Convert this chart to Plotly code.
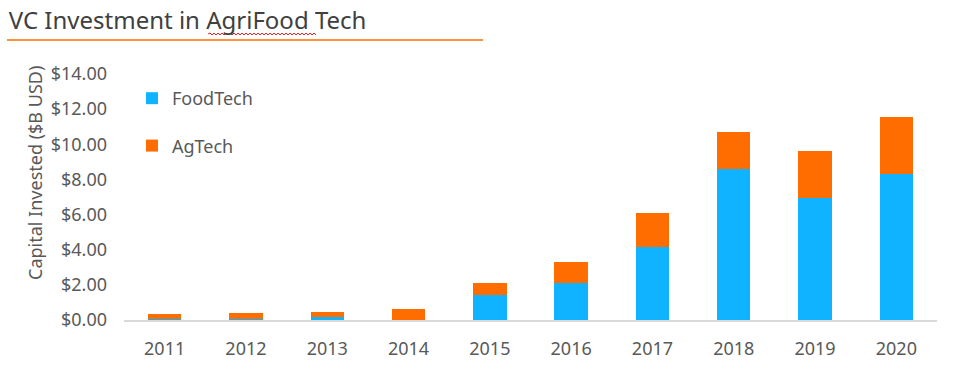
import plotly.graph_objects as go

years = ["2011", "2012", "2013", "2014", "2015", "2016", "2017", "2018", "2019", "2020"]
foodtech = [0.06, 0.06, 0.15, 0.01, 1.44, 2.11, 4.15, 8.61, 6.93, 8.33]
agtech_total = [0.36, 0.40, 0.47, 0.63, 2.12, 3.30, 6.09, 10.70, 9.64, 11.54]
agtech = [round(t - f, 2) for t, f in zip(agtech_total, foodtech)]

y_ticks = [0, 2, 4, 6, 8, 10, 12, 14]
y_tick_labels = ["$%.2f" % v for v in y_ticks]

FONT = "Noto Sans, Open Sans, sans-serif"
BLUE = "#0FB3FF"
ORANGE = "#FF6D00"
GREY = "#595959"

L, R, T, B = 124, 40, 74, 55
W, H = 977, 375
pw, ph = W - L - R, H - T - B


def px_x(x):
    return (x - L) / pw


def px_y(y):
    return (H - B - y) / ph


fig = go.Figure()
fig.add_trace(go.Bar(x=years, y=foodtech, name="FoodTech", marker=dict(color=BLUE, line=dict(width=0)),
                     legendgroup="a"))
fig.add_trace(go.Bar(x=years, y=agtech, name="AgTech", marker=dict(color=ORANGE, line=dict(width=0)),
                     legendgroup="b"))

# spell-check style squiggle under "AgriFood"
sq = "M %f %f" % (px_x(208), px_y(34))
xx = 208
up = True
while xx < 316:
    xx += 2
    sq += " L %f %f" % (px_x(xx), px_y(33 if up else 35))
    up = not up

fig.update_layout(
    width=W, height=H,
    barmode="stack", bargap=0.59,
    paper_bgcolor="white", plot_bgcolor="white",
    margin=dict(l=L, r=R, t=T, b=B, autoexpand=False),
    font=dict(family=FONT, color=GREY, size=18),
    title=dict(text="VC Investment in AgriFood Tech", x=0.009, xanchor="left", y=0.946, yanchor="middle",
               font=dict(family=FONT, size=24, color="#404040")),
    legend=dict(x=px_x(132), y=px_y(80), xanchor="left", yanchor="top", traceorder="grouped", tracegroupgap=21,
                font=dict(size=18, color=GREY), bgcolor="rgba(0,0,0,0)", itemwidth=30),
    showlegend=True,
    shapes=[
        dict(type="line", xref="paper", yref="paper",
             x0=px_x(7), x1=px_x(483), y0=px_y(40), y1=px_y(40),
             line=dict(color=ORANGE, width=1.5)),
        dict(type="path", xref="paper", yref="paper", path=sq,
             line=dict(color="#E8201A", width=1)),
    ],
    annotations=[
        dict(text="Capital Invested ($B USD)", textangle=-90, xref="paper", yref="paper",
             x=px_x(35), y=px_y(173), xanchor="center", yanchor="middle", showarrow=False,
             font=dict(size=18, color=GREY)),
    ],
)
fig.update_xaxes(showline=True, linecolor="#D9D9D9", linewidth=1.5, ticks="", showgrid=False,
                 tickfont=dict(size=18, color=GREY), automargin=False, ticklabelstandoff=12)
fig.update_yaxes(range=[0, 14], tickvals=y_ticks, ticktext=y_tick_labels, showgrid=False,
                 zeroline=False, showline=False, ticks="", ticklen=0, automargin=False,
                 ticklabelstandoff=16, tickfont=dict(size=18, color=GREY))

fig.write_html("out.html", config={"displayModeBar": False},
               post_script="document.body.style.margin='0px';")
